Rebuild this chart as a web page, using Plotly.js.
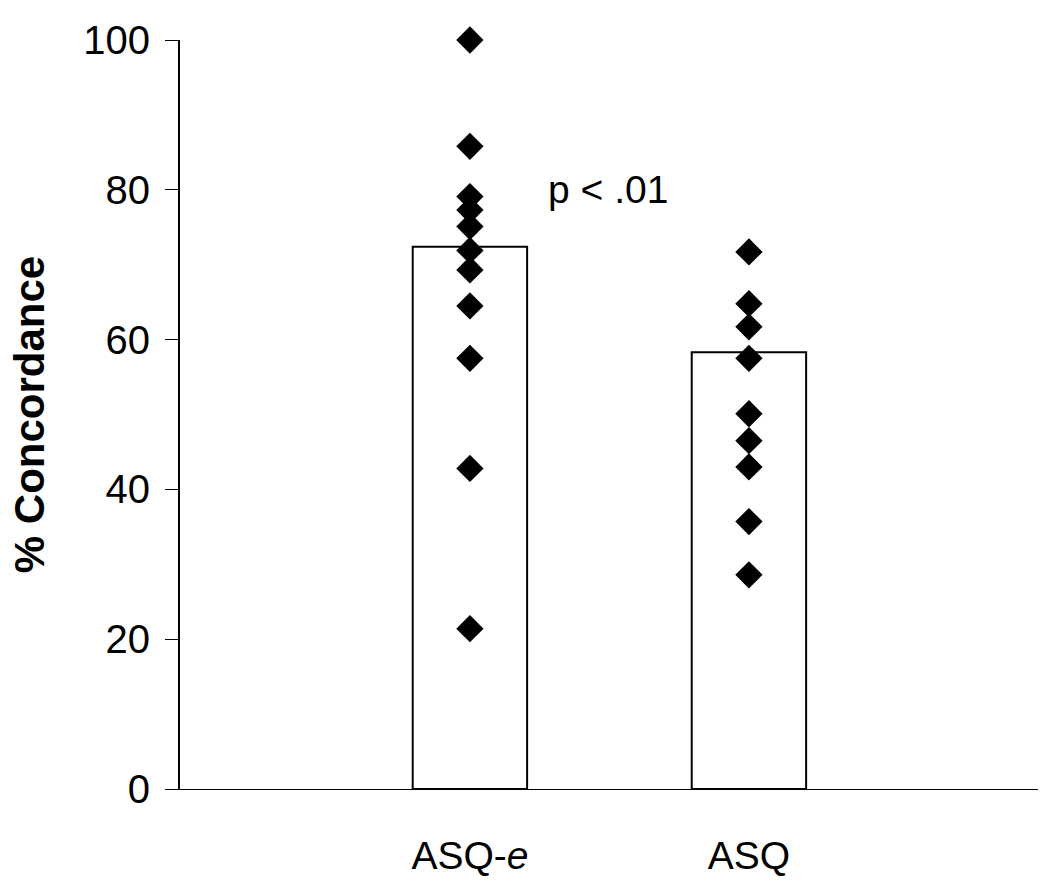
<!DOCTYPE html>
<html>
<head>
<meta charset="utf-8">
<script src="https://cdn.plot.ly/plotly-3.0.1.min.js"></script>
<style>
  body { margin: 0; background: #fff; }
  #chart { width: 1050px; height: 886px; }
</style>
</head>
<body>
<div id="chart"></div>
<script>
// groups on the x axis
const groups = ["ASQ-<i>e</i>", "ASQ"];
const groupPos = [1, 2];

// mean % concordance per group (bars)
const means = [72.4, 58.3];

// individual points per group
const asqePoints = [100, 85.8, 79.1, 77.3, 75.1, 71.9, 69.3, 64.5, 57.5, 42.8, 21.4];
const asqPoints = [71.7, 64.8, 61.7, 57.5, 50.1, 46.5, 43.0, 35.7, 28.6];

const yTicks = [0, 20, 40, 60, 80, 100];

const font = "Liberation Sans, Arial, sans-serif";

var bars = {
  type: "bar",
  x: groupPos,
  y: means,
  width: 0.41,
  marker: { color: "#ffffff", line: { color: "#000000", width: 2 } },
  hoverinfo: "skip",
};

var pts1 = {
  type: "scatter",
  mode: "markers",
  x: asqePoints.map(() => groupPos[0]),
  y: asqePoints,
  cliponaxis: false,
  marker: { symbol: "diamond", size: 21, color: "#000000" },
};

var pts2 = {
  type: "scatter",
  mode: "markers",
  x: asqPoints.map(() => groupPos[1]),
  y: asqPoints,
  cliponaxis: false,
  marker: { symbol: "diamond", size: 21, color: "#000000" },
};

var layout = {
  width: 1050,
  height: 886,
  margin: { l: 180, r: 12, t: 40, b: 97 },
  paper_bgcolor: "#ffffff",
  plot_bgcolor: "#ffffff",
  showlegend: false,
  font: { family: font, size: 40, color: "#000000" },
  xaxis: {
    range: [-0.039, 3.036],
    tickmode: "array",
    tickvals: groupPos,
    ticktext: groups,
    showgrid: false,
    zeroline: false,
    showline: true,
    linecolor: "#000000",
    linewidth: 1,
    ticks: "",
    ticklabelstandoff: 32,
    tickfont: { family: font, size: 39 },
  },
  yaxis: {
    range: [0, 100],
    tickmode: "array",
    tickvals: yTicks,
    showgrid: false,
    zeroline: false,
    showline: true,
    linecolor: "#000000",
    linewidth: 2,
    ticks: "outside",
    ticklen: 13,
    tickwidth: 1,
    tickcolor: "#000000",
    ticklabelstandoff: 7,
    tickfont: { family: font, size: 40 },
    title: {
      text: "<b>% Concordance</b>",
      font: { family: font, size: 42 },
      standoff: 26,
    },
  },
  annotations: [
    {
      x: 1.495,
      y: 80,
      xref: "x",
      yref: "y",
      text: "p &lt; .01",
      showarrow: false,
      font: { family: font, size: 39 },
    },
  ],
};

Plotly.newPlot("chart", [bars, pts1, pts2], layout, { displayModeBar: false });
</script>
</body>
</html>
